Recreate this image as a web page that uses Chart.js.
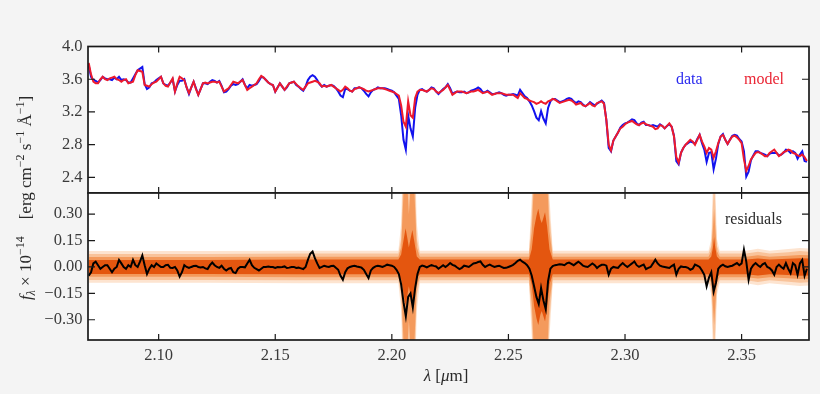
<!DOCTYPE html>
<html>
<head>
<meta charset="utf-8">
<script src="https://cdn.jsdelivr.net/npm/chart.js@4.4.0/dist/chart.umd.min.js"></script>
<style>
  html, body { margin: 0; padding: 0; background: #f4f4f4; }
  #wrap { position: relative; width: 820px; height: 394px; }
  canvas { position: absolute; left: 0; top: 0; }
</style>
</head>
<body>
<div id="wrap">
  <canvas id="specChart" width="820" height="394"></canvas>
  <canvas id="residChart" width="820" height="394"></canvas>
</div>
<script>
// wavelength grid (micron), one sample per 0.001
const lamStart = 2.070;
const lamStep = 0.001;

// observed spectrum (blue)
const flux = [
  3.77, 3.63, 3.59, 3.58, 3.56, 3.59, 3.63, 3.61, 3.60, 3.60,
  3.59, 3.62, 3.60, 3.63, 3.59, 3.60, 3.59, 3.56, 3.56, 3.61,
  3.66, 3.71, 3.73, 3.75, 3.54, 3.48, 3.50, 3.55, 3.56, 3.59,
  3.61, 3.63, 3.55, 3.53, 3.52, 3.56, 3.60, 3.45, 3.53, 3.58,
  3.58, 3.60, 3.50, 3.42, 3.50, 3.57, 3.49, 3.41, 3.48, 3.55,
  3.55, 3.54, 3.57, 3.59, 3.58, 3.56, 3.58, 3.52, 3.44, 3.45,
  3.48, 3.52, 3.54, 3.53, 3.54, 3.57, 3.60, 3.53, 3.49, 3.53,
  3.52, 3.53, 3.54, 3.58, 3.63, 3.62, 3.59, 3.56, 3.54, 3.53,
  3.45, 3.50, 3.55, 3.51, 3.47, 3.50, 3.55, 3.56, 3.57, 3.53,
  3.51, 3.48, 3.46, 3.51, 3.59, 3.63, 3.65, 3.63, 3.59, 3.54,
  3.51, 3.53, 3.51, 3.52, 3.53, 3.52, 3.49, 3.45, 3.40, 3.38,
  3.48, 3.48, 3.46, 3.45, 3.49, 3.49, 3.50, 3.49, 3.46, 3.42,
  3.39, 3.44, 3.47, 3.48, 3.50, 3.49, 3.49, 3.49, 3.48, 3.47,
  3.46, 3.44, 3.40, 3.36, 3.16, 2.86, 2.74, 3.16, 3.00, 2.90,
  3.25, 3.41, 3.47, 3.48, 3.46, 3.45, 3.47, 3.50, 3.49, 3.45,
  3.42, 3.45, 3.48, 3.50, 3.54, 3.49, 3.42, 3.44, 3.45, 3.44,
  3.44, 3.45, 3.43, 3.44, 3.46, 3.47, 3.48, 3.50, 3.48, 3.44,
  3.44, 3.46, 3.44, 3.42, 3.42, 3.43, 3.44, 3.43, 3.41, 3.40,
  3.41, 3.41, 3.42, 3.41, 3.40, 3.47, 3.43, 3.39, 3.37, 3.33,
  3.28, 3.21, 3.13, 3.10, 3.21, 3.12, 3.06, 3.25, 3.33, 3.36,
  3.36, 3.34, 3.32, 3.33, 3.34, 3.36, 3.37, 3.36, 3.33, 3.31,
  3.33, 3.32, 3.29, 3.27, 3.29, 3.32, 3.30, 3.28, 3.30, 3.32,
  3.34, 3.31, 3.10, 2.76, 2.72, 2.85, 2.90, 2.95, 3.01, 3.04,
  3.06, 3.07, 3.09, 3.11, 3.10, 3.06, 3.04, 3.07, 3.08, 3.04,
  3.04, 3.03, 3.04, 3.03, 3.02, 3.05, 3.03, 3.00, 3.03, 3.05,
  3.02, 2.91, 2.60, 2.56, 2.70, 2.76, 2.80, 2.82, 2.84, 2.83,
  2.81, 2.87, 2.92, 2.82, 2.74, 2.59, 2.70, 2.71, 2.50, 2.63,
  2.81, 2.90, 2.93, 2.86, 2.81, 2.86, 2.91, 2.92, 2.91, 2.87,
  2.84, 2.72, 2.41, 2.47, 2.61, 2.67, 2.72, 2.72, 2.70, 2.69,
  2.68, 2.66, 2.69, 2.70, 2.70, 2.70, 2.67, 2.68, 2.70, 2.74,
  2.73, 2.70, 2.72, 2.70, 2.63, 2.68, 2.72, 2.60, 2.59
];

// best-fit model (red)
const model = [
  3.80, 3.66, 3.57, 3.55, 3.55, 3.60, 3.63, 3.60, 3.59, 3.61,
  3.62, 3.63, 3.60, 3.59, 3.57, 3.59, 3.60, 3.55, 3.56, 3.57,
  3.65, 3.71, 3.70, 3.69, 3.53, 3.52, 3.51, 3.54, 3.56, 3.57,
  3.60, 3.63, 3.55, 3.52, 3.51, 3.56, 3.61, 3.45, 3.55, 3.63,
  3.61, 3.59, 3.50, 3.43, 3.50, 3.57, 3.48, 3.41, 3.48, 3.55,
  3.56, 3.55, 3.56, 3.57, 3.57, 3.56, 3.57, 3.51, 3.45, 3.47,
  3.49, 3.53, 3.57, 3.56, 3.55, 3.57, 3.59, 3.53, 3.47, 3.49,
  3.51, 3.53, 3.55, 3.60, 3.64, 3.62, 3.59, 3.56, 3.54, 3.53,
  3.45, 3.50, 3.55, 3.51, 3.47, 3.51, 3.55, 3.56, 3.57, 3.54,
  3.51, 3.49, 3.47, 3.51, 3.55, 3.56, 3.57, 3.58, 3.57, 3.55,
  3.51, 3.52, 3.51, 3.52, 3.53, 3.51, 3.49, 3.47, 3.45, 3.47,
  3.51, 3.49, 3.46, 3.45, 3.48, 3.49, 3.50, 3.49, 3.48, 3.46,
  3.45, 3.46, 3.47, 3.48, 3.49, 3.49, 3.49, 3.48, 3.47, 3.46,
  3.45, 3.44, 3.42, 3.40, 3.28, 3.08, 3.02, 3.33, 3.16, 3.13,
  3.37, 3.45, 3.47, 3.47, 3.46, 3.45, 3.47, 3.49, 3.48, 3.45,
  3.43, 3.45, 3.47, 3.50, 3.53, 3.47, 3.41, 3.43, 3.45, 3.45,
  3.45, 3.44, 3.43, 3.44, 3.45, 3.45, 3.46, 3.47, 3.45, 3.43,
  3.44, 3.45, 3.43, 3.41, 3.42, 3.43, 3.43, 3.43, 3.42, 3.41,
  3.41, 3.41, 3.41, 3.39, 3.37, 3.43, 3.40, 3.37, 3.36, 3.34,
  3.33, 3.32, 3.30, 3.31, 3.33, 3.31, 3.30, 3.33, 3.34, 3.36,
  3.35, 3.33, 3.31, 3.32, 3.33, 3.34, 3.35, 3.34, 3.32, 3.29,
  3.30, 3.31, 3.28, 3.27, 3.29, 3.31, 3.28, 3.27, 3.31, 3.32,
  3.33, 3.30, 3.10, 2.80, 2.73, 2.85, 2.90, 2.95, 3.00, 3.02,
  3.05, 3.07, 3.08, 3.09, 3.07, 3.05, 3.04, 3.06, 3.07, 3.05,
  3.04, 3.03, 3.02, 2.99, 3.00, 3.04, 3.03, 3.00, 3.03, 3.06,
  3.02, 2.90, 2.65, 2.58, 2.70, 2.76, 2.80, 2.83, 2.86, 2.84,
  2.80, 2.86, 2.92, 2.84, 2.78, 2.70, 2.76, 2.74, 2.64, 2.72,
  2.82, 2.90, 2.92, 2.86, 2.81, 2.86, 2.90, 2.91, 2.89, 2.86,
  2.82, 2.62, 2.48, 2.54, 2.62, 2.66, 2.70, 2.71, 2.70, 2.68,
  2.66, 2.66, 2.70, 2.72, 2.74, 2.70, 2.66, 2.68, 2.71, 2.72,
  2.74, 2.73, 2.70, 2.69, 2.67, 2.66, 2.68, 2.65, 2.60
];

// residuals (black)
const resid = [
  -0.05, -0.03, 0.02, 0.03, 0.01, -0.01, 0.0, 0.01, 0.01, -0.01,
  -0.03, -0.01, 0.0, 0.04, 0.02, 0.0, -0.01, 0.01, 0.0, 0.04,
  0.01, 0.0, 0.03, 0.065, 0.01, -0.04, -0.01, 0.01, 0.0, 0.02,
  0.01, 0.0, 0.0, 0.01, 0.012, -0.005, -0.006, 0.0, -0.02, -0.055,
  -0.03, 0.01, 0.0, -0.006, 0.0, 0.005, 0.007, 0.0, -0.003, 0.0,
  -0.008, -0.012, 0.01, 0.025, 0.01, 0.0, -0.005, 0.007, -0.01, -0.02,
  -0.01, -0.006, -0.03, -0.035, -0.01, 0.0, 0.0, -0.002, 0.02, 0.04,
  0.01, -0.005, -0.012, -0.02, -0.01, 0.0, 0.0, 0.002, 0.0, 0.0,
  -0.005, 0.0, -0.002, 0.0, 0.003, -0.006, -0.004, 0.0, 0.0, -0.006,
  -0.004, -0.008, -0.012, 0.0, 0.04, 0.075, 0.088, 0.05, 0.02, -0.006,
  0.0, 0.007, 0.003, 0.0, 0.005, 0.007, -0.005, -0.016, -0.05, -0.073,
  -0.03, -0.008, 0.0, 0.004, 0.007, 0.003, 0.0, -0.004, -0.016, -0.04,
  -0.063, -0.02, -0.005, 0.003, 0.007, 0.004, 0.0, 0.006, 0.013, 0.01,
  0.007, 0.0, -0.016, -0.04, -0.10, -0.20, -0.28, -0.17, -0.15, -0.23,
  -0.12, -0.04, 0.0, 0.008, 0.004, -0.002, 0.005, 0.01, 0.006, 0.003,
  -0.01, 0.0, 0.01, 0.0, 0.01, 0.022, 0.012, 0.007, -0.003, -0.012,
  -0.005, 0.007, 0.004, 0.0, 0.01, 0.02, 0.022, 0.028, 0.031, 0.012,
  0.0, 0.007, 0.013, 0.006, 0.0, 0.004, 0.007, 0.0, -0.006, -0.005,
  0.0, 0.005, 0.012, 0.022, 0.035, 0.041, 0.03, 0.022, 0.01, -0.01,
  -0.05, -0.11, -0.17, -0.21, -0.12, -0.19, -0.24, -0.08, -0.01, 0.005,
  0.01, 0.012, 0.015, 0.014, 0.01, 0.02, 0.025, 0.018, 0.01, 0.02,
  0.03, 0.02, 0.007, 0.002, 0.0, 0.01, 0.02, 0.01, -0.006, 0.005,
  0.012, 0.013, 0.007, -0.044, -0.01, 0.0, -0.003, -0.006, 0.01, 0.022,
  0.01, 0.0, 0.01, 0.02, 0.031, 0.01, 0.0, 0.007, 0.013, -0.012,
  -0.005, 0.0, 0.02, 0.041, 0.02, 0.007, 0.003, 0.0, -0.003, -0.006,
  0.005, 0.013, -0.044, -0.01, 0.003, 0.0, 0.0, -0.005, -0.016, -0.01,
  0.013, 0.007, 0.0, -0.02, -0.045, -0.11, -0.06, -0.03, -0.14, -0.09,
  -0.01, 0.005, 0.013, 0.004, 0.0, 0.004, 0.007, 0.015, 0.022, 0.01,
  0.02, 0.098, 0.03, -0.073, -0.01, 0.01, 0.022, 0.01, 0.0, 0.015,
  0.022, 0.0, -0.006, -0.02, -0.044, 0.0, 0.013, 0.0, -0.01, 0.022,
  -0.01, -0.035, 0.022, 0.01, -0.044, 0.02, 0.04, -0.05, -0.01
];

// uncertainty bands around zero: half-widths at breakpoints
const bandLam = [
  2.070, 2.120, 2.160, 2.2028,
  2.2040, 2.2050, 2.2059, 2.2067, 2.2073, 2.2080, 2.2088, 2.2097, 2.2107,
  2.2120, 2.240, 2.2588,
  2.2600, 2.2610, 2.2620, 2.2628, 2.2637, 2.2643, 2.2650, 2.2657, 2.2666, 2.2676,
  2.2690, 2.300, 2.3358,
  2.3370, 2.3377, 2.3382, 2.3387, 2.3394,
  2.3406, 2.352, 2.357, 2.362, 2.370, 2.375, 2.380
];
const band1 = [
  0.040, 0.040, 0.042, 0.042,
  0.070, 0.150, 0.220, 0.160, 0.110, 0.160, 0.210, 0.140, 0.060,
  0.042, 0.042, 0.042,
  0.100, 0.220, 0.290, 0.330, 0.270, 0.250, 0.280, 0.310, 0.230, 0.100,
  0.042, 0.042, 0.042,
  0.060, 0.110, 0.170, 0.110, 0.060,
  0.042, 0.042, 0.048, 0.042, 0.046, 0.050, 0.048
];
const band2 = [
  0.056, 0.056, 0.058, 0.058,
  0.110, 0.420, 0.700, 0.450, 0.300, 0.450, 0.700, 0.420, 0.110,
  0.058, 0.058, 0.058,
  0.200, 0.500, 0.700, 0.800, 0.700, 0.650, 0.700, 0.800, 0.500, 0.200,
  0.058, 0.058, 0.058,
  0.090, 0.220, 0.330, 0.220, 0.090,
  0.058, 0.058, 0.066, 0.058, 0.064, 0.068, 0.066
];
const band3 = [
  0.074, 0.074, 0.076, 0.076,
  0.160, 0.600, 0.900, 0.650, 0.450, 0.650, 0.900, 0.600, 0.160,
  0.076, 0.076, 0.076,
  0.300, 0.700, 0.900, 1.000, 0.900, 0.900, 0.900, 1.000, 0.700, 0.300,
  0.076, 0.076, 0.076,
  0.120, 0.350, 0.500, 0.350, 0.120,
  0.076, 0.076, 0.086, 0.076, 0.084, 0.090, 0.086
];
const band4 = [
  0.090, 0.090, 0.092, 0.092,
  0.250, 0.800, 1.200, 0.850, 0.600, 0.850, 1.200, 0.800, 0.250,
  0.092, 0.092, 0.092,
  0.400, 0.900, 1.200, 1.200, 1.200, 1.200, 1.200, 1.200, 0.900, 0.400,
  0.092, 0.092, 0.092,
  0.160, 0.500, 0.700, 0.500, 0.160,
  0.092, 0.092, 0.104, 0.092, 0.102, 0.108, 0.104
];

// tick labels
const xTicks = [2.10, 2.15, 2.20, 2.25, 2.30, 2.35];
const fluxTicks = [2.4, 2.8, 3.2, 3.6, 4.0];
const residTicks = [-0.30, -0.15, 0.00, 0.15, 0.30];

const lam = flux.map((_, i) => +(lamStart + i * lamStep).toFixed(3));
const pts = (xs, ys) => xs.map((x, i) => ({ x: x, y: ys[i] }));

const serif = '"Liberation Serif", "DejaVu Serif", serif';
const tickFont = { family: serif, size: 16.5 };
const minus = s => s.replace('-', '\u2212');

// white plot area, frame and inward ticks on all four sides
const panelPlugin = {
  id: 'panel',
  beforeDraw(chart) {
    const { ctx, chartArea: a } = chart;
    ctx.save();
    ctx.fillStyle = '#ffffff';
    ctx.fillRect(a.left, a.top, a.right - a.left, a.bottom - a.top);
    ctx.restore();
  },
  afterDraw(chart) {
    const { ctx, chartArea: a, scales } = chart;
    ctx.save();
    ctx.strokeStyle = '#1a1a1a';
    ctx.lineWidth = 1.2;
    ctx.beginPath();
    xTicks.forEach(v => {
      const px = scales.x.getPixelForValue(v);
      ctx.moveTo(px, a.top); ctx.lineTo(px, a.top + 6);
      ctx.moveTo(px, a.bottom); ctx.lineTo(px, a.bottom - 6);
    });
    scales.y.ticks.forEach(t => {
      const py = scales.y.getPixelForValue(t.value);
      ctx.moveTo(a.left, py); ctx.lineTo(a.left + 7, py);
      ctx.moveTo(a.right, py); ctx.lineTo(a.right - 7, py);
    });
    ctx.stroke();
    ctx.lineWidth = 1.7;
    ctx.strokeRect(a.left, a.top, a.right - a.left, a.bottom - a.top);
    ctx.restore();
  }
};

// draws a run of text pieces with their own fonts and baseline shifts
function drawRuns(ctx, runs, x, y) {
  let w = 0;
  runs.forEach(r => { ctx.font = r.f; w += ctx.measureText(r.t).width; });
  let cx = x - w / 2;
  runs.forEach(r => {
    ctx.font = r.f;
    ctx.fillText(r.t, cx, y + (r.dy || 0));
    cx += ctx.measureText(r.t).width;
  });
}

const big = '17px ' + serif;
const bigIt = 'italic 17px ' + serif;
const small = '12px ' + serif;

const specLabels = {
  id: 'specLabels',
  afterDraw(chart) {
    const ctx = chart.ctx;
    ctx.save();
    ctx.font = '16px ' + serif;
    ctx.textBaseline = 'alphabetic';
    ctx.fillStyle = '#2b2bee';
    ctx.fillText('data', 676, 84);
    ctx.fillStyle = '#ea2534';
    ctx.fillText('model', 744, 84);
    ctx.restore();
  }
};

const residLabels = {
  id: 'residLabels',
  afterDraw(chart) {
    const ctx = chart.ctx;
    ctx.save();
    ctx.fillStyle = '#2a2a2a';
    ctx.textBaseline = 'alphabetic';
    ctx.font = '16px ' + serif;
    ctx.fillText('residuals', 725, 224);

    // x axis title
    drawRuns(ctx, [
      { t: '\u03bb', f: bigIt },
      { t: ' [', f: big },
      { t: '\u03bc', f: bigIt },
      { t: 'm]', f: big }
    ], 446, 381);

    // y axis title, shared by both panels
    ctx.translate(31, 198);
    ctx.rotate(-Math.PI / 2);
    drawRuns(ctx, [
      { t: 'f', f: bigIt },
      { t: '\u03bb', f: 'italic 12px ' + serif, dy: 4 },
      { t: ' \u00d7 10', f: big },
      { t: '\u221214', f: small, dy: -7 },
      { t: '    [erg cm', f: big },
      { t: '\u22122', f: small, dy: -7 },
      { t: ' s', f: big },
      { t: '\u22121', f: small, dy: -7 },
      { t: ' \u00c5', f: big },
      { t: '\u22121', f: small, dy: -7 },
      { t: ']', f: big }
    ], 0, 0);
    ctx.restore();
  }
};

const xMin = 2.0697, xMax = 2.3789;

// top panel: spectrum and model
new Chart(document.getElementById('specChart'), {
  type: 'line',
  data: {
    datasets: [
      { label: 'model', data: pts(lam, model), borderColor: '#ee1a2c', borderWidth: 2, pointRadius: 0, order: 0 },
      { label: 'data', data: pts(lam, flux), borderColor: '#1212ee', borderWidth: 2, pointRadius: 0, order: 1 }
    ]
  },
  options: {
    responsive: false,
    animation: false,
    events: [],
    layout: { padding: { left: 0, top: 46.5, right: 11, bottom: 201 } },
    plugins: { legend: { display: false }, tooltip: { enabled: false } },
    scales: {
      x: { type: 'linear', min: xMin, max: xMax, display: false },
      y: {
        min: 2.21, max: 4.0,
        afterFit: s => { s.width = 88; },
        afterBuildTicks: s => { s.ticks = fluxTicks.map(v => ({ value: v })); },
        grid: { display: false, drawTicks: false },
        border: { display: false },
        ticks: { padding: 5.5, color: '#3a3a3a', font: tickFont, callback: v => v.toFixed(1) }
      }
    }
  },
  plugins: [panelPlugin, specLabels]
});

// bottom panel: residuals with shaded bands (outermost first)
const bandLevels = [
  { h: band4, color: '#fde4d0' },
  { h: band3, color: '#f9c39a' },
  { h: band2, color: '#f49a5c' },
  { h: band1, color: '#e4560f' }
];
const residSets = [
  { label: 'residuals', data: pts(lam, resid), borderColor: '#000000', borderWidth: 2, pointRadius: 0, order: 0 }
];
bandLevels.forEach((b, k) => {
  residSets.push({ data: pts(bandLam, b.h), borderWidth: 0, pointRadius: 0, backgroundColor: b.color, fill: '+1', order: 10 - k });
  residSets.push({ data: pts(bandLam, b.h.map(v => -v)), borderWidth: 0, pointRadius: 0, fill: false, order: 10 - k });
});

new Chart(document.getElementById('residChart'), {
  type: 'line',
  data: { datasets: residSets },
  options: {
    responsive: false,
    animation: false,
    events: [],
    layout: { padding: { left: 0, top: 193, right: 11, bottom: 0 } },
    plugins: { legend: { display: false }, tooltip: { enabled: false } },
    scales: {
      x: {
        type: 'linear', min: xMin, max: xMax,
        afterFit: s => { s.height = 54; },
        afterBuildTicks: s => { s.ticks = xTicks.map(v => ({ value: v })); },
        grid: { display: false, drawTicks: false },
        border: { display: false },
        ticks: { padding: 6, autoSkip: false, maxRotation: 0, color: '#3a3a3a', font: tickFont, callback: v => v.toFixed(2) }
      },
      y: {
        min: -0.415, max: 0.42,
        afterFit: s => { s.width = 88; },
        afterBuildTicks: s => { s.ticks = residTicks.map(v => ({ value: v })); },
        grid: { display: false, drawTicks: false },
        border: { display: false },
        ticks: { padding: 5.5, color: '#3a3a3a', font: tickFont, callback: v => minus(v.toFixed(2)) }
      }
    }
  },
  plugins: [panelPlugin, residLabels]
});
</script>
</body>
</html>
